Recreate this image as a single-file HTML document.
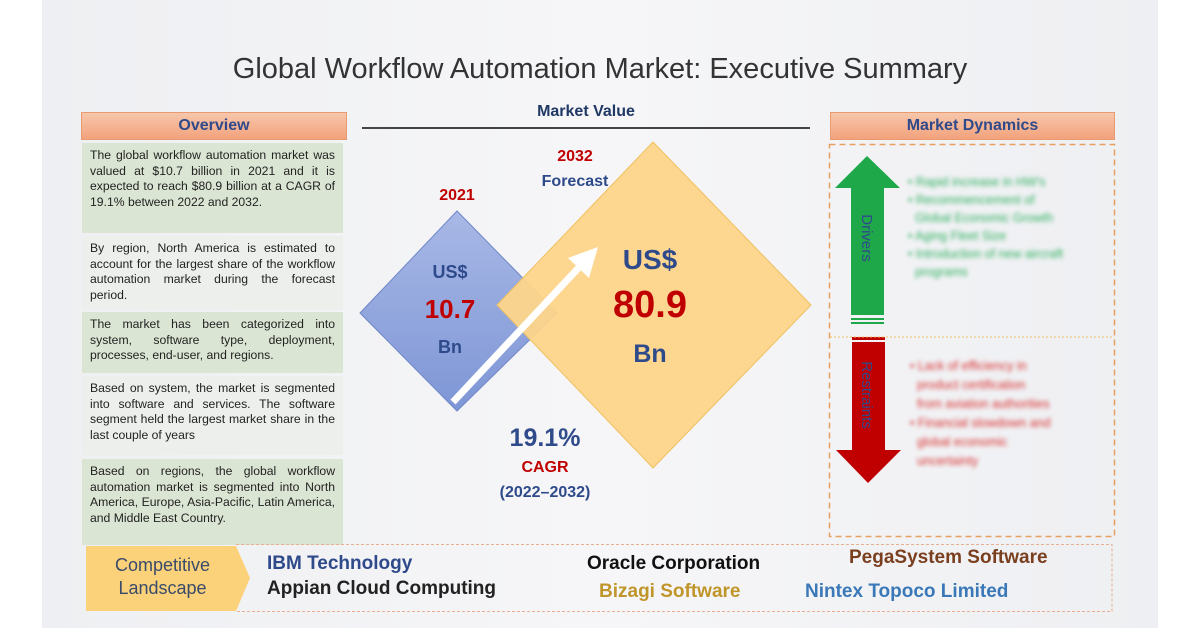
<!DOCTYPE html>
<html><head><meta charset="utf-8"><style>
body{margin:0;width:1200px;height:628px;background:#fff;position:relative;overflow:hidden;font-family:"Liberation Sans",sans-serif}
.bg{position:absolute;left:42px;top:0;width:1116px;height:628px;background:linear-gradient(90deg,#eeeff2,#f6f6f8 50%,#eeeff2)}
.a{position:absolute}
.hdr{position:absolute;height:26px;background:linear-gradient(#f7c6ab,#f2a27c);border:1px solid #e89a70;color:#2f4a8a;font-weight:bold;font-size:16px;text-align:center;line-height:26px}
.box{position:absolute;left:82px;width:245px;padding:5px 8px;font-size:12.2px;line-height:15.5px;color:#222;text-align:justify}
.g{background:#dbe5d3}.w{background:#ecefeb}
.blur{filter:blur(2.2px);font-size:12.5px;line-height:18px}
</style></head><body>
<div class="bg"></div>
<div class="a" style="left:0;width:1200px;top:53px;text-align:center;font-size:29px;color:#333">Global Workflow Automation Market: Executive Summary</div>

<div class="hdr" style="left:81px;top:112px;width:264px">Overview</div>
<div class="box g" style="top:143px;height:80px">The global workflow automation market was valued at $10.7 billion in 2021 and it is expected to reach $80.9 billion at a CAGR of 19.1% between 2022 and 2032.</div>
<div class="box w" style="top:236px;height:64px">By region, North America is estimated to account for the largest share of the workflow automation market during the forecast period.</div>
<div class="box g" style="top:312px;height:51px">The market has been categorized into system, software type, deployment, processes, end-user, and regions.</div>
<div class="box w" style="top:376px;height:69px">Based on system, the market is segmented into software and services. The software segment held the largest market share in the last couple of years</div>
<div class="box g" style="top:459px;height:76px">Based on regions, the global workflow automation market is segmented into North America, Europe, Asia-Pacific, Latin America, and Middle East Country.</div>

<div class="a" style="left:362px;width:448px;top:103px;text-align:center;font-weight:bold;font-size:16px;color:#1f3864">Market Value</div>
<div class="a" style="left:362px;width:448px;top:127px;border-top:2px solid #444"></div>

<svg class="a" style="left:0;top:0" width="1200" height="628">
<defs>
<linearGradient id="bl" x1="0" y1="0" x2="0" y2="1"><stop offset="0" stop-color="#a8b8e6"/><stop offset="1" stop-color="#7e96d6"/></linearGradient>
</defs>
<polygon points="457,211 557,313 457,411 360,313" fill="url(#bl)" stroke="#6f86c8"/>
<polygon points="653,142 811,305 653,468 497,305" fill="#fdd58a" fill-opacity="0.95" stroke="#f0c060"/>
<line x1="453" y1="402" x2="585" y2="261" stroke="#fff" stroke-width="7"/>
<polygon points="598,247 568,258 589,278" fill="#fff"/>
<polygon points="867,156 900,188 884,188 884,315 851,315 851,188 835,188" fill="#1fa84a"/>
<rect x="851" y="318" width="33" height="2" fill="#1fa84a"/><rect x="851" y="322" width="33" height="2" fill="#1fa84a"/>
<rect x="852" y="337" width="33" height="3" fill="#c00000"/><rect x="852" y="342" width="33" height="108" fill="#c00000"/>
<polygon points="836,450 901,450 868,483" fill="#c00000"/>
<rect x="829.5" y="144.5" width="285" height="392" fill="none" stroke="#e8a060" stroke-width="1.5" stroke-dasharray="6,4"/>
<line x1="830" y1="337" x2="1114" y2="337" stroke="#f0c060" stroke-dasharray="2,2"/>
<polygon points="86,546 236,546 250,578 236,611 86,611" fill="#fbd27a"/>
<path d="M236,544.5 H1112 V611.5 H236" fill="none" stroke="#e8b090" stroke-dasharray="3,2"/>
<text x="862" y="238" transform="rotate(90 862 238)" font-family="Liberation Sans" font-size="15" fill="#2f4a8a" text-anchor="middle">Drivers</text>
<text x="862" y="395" transform="rotate(90 862 395)" font-family="Liberation Sans" font-size="15" fill="#2f4a8a" text-anchor="middle">Restraints</text>
</svg>

<div class="a" style="left:412px;width:90px;top:187px;text-align:center;font-weight:bold;font-size:16px;color:#c00000">2021</div>
<div class="a" style="left:530px;width:90px;top:148px;text-align:center;font-weight:bold;font-size:16px;color:#c00000">2032</div>
<div class="a" style="left:530px;width:90px;top:173px;text-align:center;font-weight:bold;font-size:16px;color:#2f4a8a">Forecast</div>
<div class="a" style="left:400px;width:100px;top:262px;text-align:center;font-weight:bold;font-size:18px;color:#2f4a8a">US$</div>
<div class="a" style="left:400px;width:100px;top:294px;text-align:center;font-weight:bold;font-size:26px;color:#c00000">10.7</div>
<div class="a" style="left:400px;width:100px;top:337px;text-align:center;font-weight:bold;font-size:18px;color:#2f4a8a">Bn</div>
<div class="a" style="left:580px;width:140px;top:244px;text-align:center;font-weight:bold;font-size:28px;color:#2f4a8a">US$</div>
<div class="a" style="left:570px;width:160px;top:284px;text-align:center;font-weight:bold;font-size:38px;color:#c00000">80.9</div>
<div class="a" style="left:580px;width:140px;top:340px;text-align:center;font-weight:bold;font-size:25px;color:#2f4a8a">Bn</div>
<div class="a" style="left:470px;width:150px;top:424px;text-align:center;font-weight:bold;font-size:25px;color:#2f4a8a">19.1%</div>
<div class="a" style="left:470px;width:150px;top:459px;text-align:center;font-weight:bold;font-size:16px;color:#c00000">CAGR</div>
<div class="a" style="left:470px;width:150px;top:484px;text-align:center;font-weight:bold;font-size:16px;color:#2f4a8a">(2022–2032)</div>

<div class="hdr" style="left:830px;top:112px;width:283px">Market Dynamics</div>
<div class="a blur" style="left:908px;top:173px;width:200px;color:#2fb060">• Rapid increase in HW's<br>• Recommencement of<br>&nbsp;&nbsp;Global Economic Growth<br>• Aging Fleet Size<br>• Introduction of new aircraft<br>&nbsp;&nbsp;programs</div>
<div class="a blur" style="left:910px;top:357px;width:200px;color:#d83030;line-height:19px">• Lack of efficiency in<br>&nbsp;&nbsp;product certification<br>&nbsp;&nbsp;from aviation authorities<br>• Financial slowdown and<br>&nbsp;&nbsp;global economic<br>&nbsp;&nbsp;uncertainty</div>

<div class="a" style="left:95px;width:135px;top:554px;text-align:center;font-size:18px;line-height:23px;color:#3a4a6a">Competitive<br>Landscape</div>
<div class="a" style="left:267px;top:553px;font-weight:bold;font-size:19px;color:#2f4a8a">IBM Technology</div>
<div class="a" style="left:267px;top:578px;font-weight:bold;font-size:19px;color:#222">Appian Cloud Computing</div>
<div class="a" style="left:587px;top:553px;font-weight:bold;font-size:19px;color:#111">Oracle Corporation</div>
<div class="a" style="left:599px;top:581px;font-weight:bold;font-size:19px;color:#c0952a">Bizagi Software</div>
<div class="a" style="left:849px;top:547px;font-weight:bold;font-size:19px;color:#7a3f1e">PegaSystem Software</div>
<div class="a" style="left:805px;top:581px;font-weight:bold;font-size:19px;color:#3a78b8">Nintex Topoco Limited</div>
</body></html>
